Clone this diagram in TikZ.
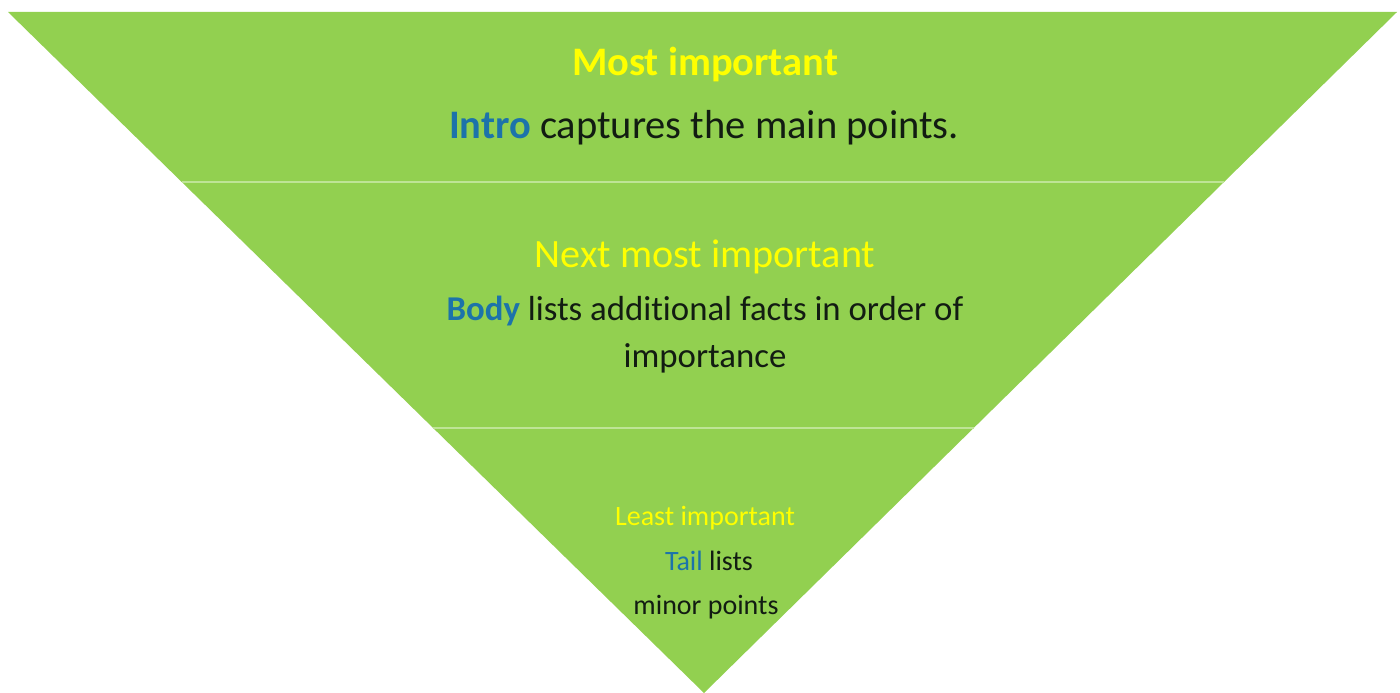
\documentclass[tikz,border=0pt]{standalone}
\usepackage{fontspec}
\setmainfont{Carlito}[RawFeature={-liga}]
\usetikzlibrary{calc}
\definecolor{pyrgreen}{RGB}{146,208,80}
\definecolor{divline}{RGB}{190,228,150}
\definecolor{headyellow}{RGB}{255,255,0}
\definecolor{keyblue}{RGB}{28,115,170}
\definecolor{bodytext}{RGB}{18,28,18}
\tikzset{
  txt/.style={anchor=base, inner sep=0pt, text=bodytext},
  head/.style={anchor=base, inner sep=0pt, text=headyellow},
  divider/.style={draw=divline, line width=1.6pt},
}
\newcommand{\kw}[1]{\textcolor{keyblue}{#1}}
\begin{document}
\begin{tikzpicture}[x=1pt,y=-1pt]
\useasboundingbox[fill=white] (0,0) rectangle (1400,693);
\coordinate (tl) at (8,12);
\coordinate (tr) at (1397,12);
\coordinate (ap) at (704,693);
\fill[pyrgreen] (tl) -- (tr) -- (ap) -- cycle;
% dividers
\coordinate (d1l) at ($(tl)!0.2496!(ap)$);
\coordinate (d1r) at ($(tr)!0.2496!(ap)$);
\coordinate (d2l) at ($(tl)!0.6109!(ap)$);
\coordinate (d2r) at ($(tr)!0.6109!(ap)$);
\draw[divider] (d1l) -- (d1r);
\draw[divider] (d2l) -- (d2r);
% top section
\node[head, font=\fontsize{40.5}{48}\selectfont\bfseries] (h1) at (705,75) {Most important};
\node[txt, font=\fontsize{40.5}{48}\selectfont] (t1) at (704,138) {\textbf{\kw{Intro}} captures the main points.};
% middle section
\node[head, font=\fontsize{40.2}{48}\selectfont] (h2) at (705,267) {Next most important};
\node[txt, font=\fontsize{34.8}{42}\selectfont] (t2a) at (705,320) {\textbf{\kw{Body}} lists additional facts in order of};
\node[txt, font=\fontsize{34.8}{42}\selectfont] (t2b) at (705,367) {importance};
% bottom section
\node[head, font=\fontsize{28}{34}\selectfont] (h3) at (705,525) {Least important};
\node[txt, font=\fontsize{28}{34}\selectfont] (t3a) at (709,570) {\kw{Tail} lists};
\node[txt, font=\fontsize{28}{34}\selectfont] (t3b) at (706,614) {minor points};
\end{tikzpicture}
\end{document}
